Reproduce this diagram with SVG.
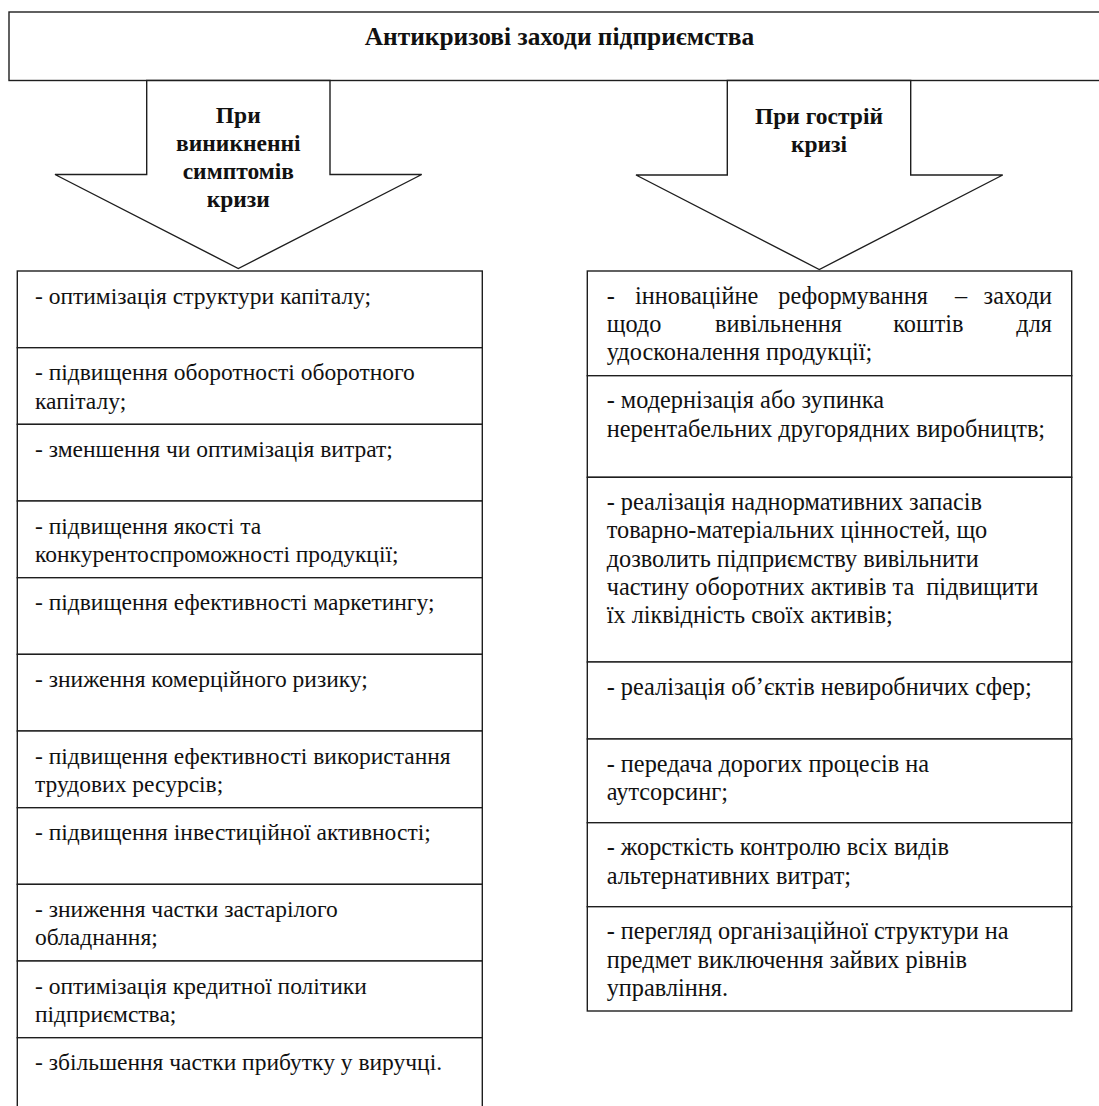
<svg xmlns="http://www.w3.org/2000/svg" width="1099" height="1106" viewBox="0 0 1099 1106">
<style>
.box{fill:#fff;stroke:#1e1e1e;stroke-width:1.4}
.t{font-family:"Liberation Serif","DejaVu Serif",serif;font-size:23.5px;fill:#111}
.r{font-size:24.3px}
.b{font-family:"Liberation Serif","DejaVu Serif",serif;font-size:23.5px;font-weight:bold;fill:#111}
.h{font-size:25.4px}
.c{text-anchor:middle}
.e{text-anchor:end}
</style>
<rect width="1099" height="1106" fill="#fff"/>
<g id="header">
<rect class="box" x="9" y="12" width="1100" height="68.5"/>
<text class="b h c" x="559.5" y="45">Антикризові заходи підприємства</text>
</g>
<g id="connectors">
<g id="arrow-left">
<polygon class="box" points="146.7,80.5 146.7,174.5 55,174.5 238.3,268.5 421.7,174.5 330,174.5 330,80.5"/>
<text class="b c" x="238.3" y="123.3">При</text>
<text class="b c" x="238.3" y="151.3">виникненні</text>
<text class="b c" x="238.3" y="179.3">симптомів</text>
<text class="b c" x="238.3" y="206.5">кризи</text>
</g>
<g id="arrow-right">
<polygon class="box" points="727.3,80.5 727.3,175 636,175 819.3,269.5 1002.7,175 910.7,175 910.7,80.5"/>
<text class="b c" x="819" y="123.5">При гострій</text>
<text class="b c" x="819" y="151.5">кризі</text>
</g>
</g>
<g id="left-column">
<g id="l1"><rect class="box" x="17.3" y="271" width="465" height="76.7"/><text class="t" x="35" y="303.5">- оптимізація структури капіталу;</text></g>
<g id="l2"><rect class="box" x="17.3" y="347.7" width="465" height="76.7"/><text class="t" x="35" y="380.2">- підвищення оборотності оборотного</text><text class="t" x="35" y="408.6">капіталу;</text></g>
<g id="l3"><rect class="box" x="17.3" y="424.3" width="465" height="76.7"/><text class="t" x="35" y="456.8">- зменшення чи оптимізація витрат;</text></g>
<g id="l4"><rect class="box" x="17.3" y="501" width="465" height="76.7"/><text class="t" x="35" y="533.5">- підвищення якості та</text><text class="t" x="35" y="561.9">конкурентоспроможності продукції;</text></g>
<g id="l5"><rect class="box" x="17.3" y="577.7" width="465" height="76.7"/><text class="t" x="35" y="610.2">- підвищення ефективності маркетингу;</text></g>
<g id="l6"><rect class="box" x="17.3" y="654.3" width="465" height="76.7"/><text class="t" x="35" y="686.8">- зниження комерційного ризику;</text></g>
<g id="l7"><rect class="box" x="17.3" y="731" width="465" height="76.7"/><text class="t" x="35" y="763.5">- підвищення ефективності використання</text><text class="t" x="35" y="791.9">трудових ресурсів;</text></g>
<g id="l8"><rect class="box" x="17.3" y="807.7" width="465" height="76.7"/><text class="t" x="35" y="840.2">- підвищення інвестиційної активності;</text></g>
<g id="l9"><rect class="box" x="17.3" y="884.3" width="465" height="76.7"/><text class="t" x="35" y="916.8">- зниження частки застарілого</text><text class="t" x="35" y="945.2">обладнання;</text></g>
<g id="l10"><rect class="box" x="17.3" y="961" width="465" height="76.7"/><text class="t" x="35" y="993.5">- оптимізація кредитної політики</text><text class="t" x="35" y="1021.9">підприємства;</text></g>
<g id="l11"><rect class="box" x="17.3" y="1037.7" width="465" height="80"/><text class="t" x="35" y="1070.2">- збільшення частки прибутку у виручці.</text></g>
</g>
<g id="right-column">
<g id="r1"><rect class="box" x="587.3" y="271" width="484.4" height="104.7"/>
<text class="t r" x="606.7" y="303.5">-</text><text class="t r" x="635" y="303.5">інноваційне</text><text class="t r" x="778.3" y="303.5">реформування</text><text class="t r" x="955" y="303.5">–</text><text class="t r e" x="1052" y="303.5">заходи</text>
<text class="t r" x="606.7" y="331.9">щодо</text><text class="t r" x="715" y="331.9">вивільнення</text><text class="t r" x="893.3" y="331.9">коштів</text><text class="t r e" x="1052" y="331.9">для</text>
<text class="t r" x="606.7" y="360.3">удосконалення продукції;</text></g>
<g id="r2"><rect class="box" x="587.3" y="375.7" width="484.4" height="101.6"/><text class="t r" x="606.7" y="408.2">- модернізація або зупинка</text><text class="t r" x="606.7" y="436.6">нерентабельних другорядних виробництв;</text></g>
<g id="r3"><rect class="box" x="587.3" y="477.3" width="484.4" height="184.7"/><text class="t r" x="606.7" y="509.8">- реалізація наднормативних запасів</text><text class="t r" x="606.7" y="538.2">товарно-матеріальних цінностей, що</text><text class="t r" x="606.7" y="566.6">дозволить підприємству вивільнити</text><text class="t r" x="606.7" y="595" xml:space="preserve">частину оборотних активів та  підвищити</text><text class="t r" x="606.7" y="623.4">їх ліквідність своїх активів;</text></g>
<g id="r4"><rect class="box" x="587.3" y="662" width="484.4" height="77"/><text class="t r" x="606.7" y="694.5">- реалізація об’єктів невиробничих сфер;</text></g>
<g id="r5"><rect class="box" x="587.3" y="739" width="484.4" height="83.7"/><text class="t r" x="606.7" y="771.5">- передача дорогих процесів на</text><text class="t r" x="606.7" y="799.9">аутсорсинг;</text></g>
<g id="r6"><rect class="box" x="587.3" y="822.7" width="484.4" height="84"/><text class="t r" x="606.7" y="855.2">- жорсткість контролю всіх видів</text><text class="t r" x="606.7" y="883.6">альтернативних витрат;</text></g>
<g id="r7"><rect class="box" x="587.3" y="906.7" width="484.4" height="104.3"/><text class="t r" x="606.7" y="939.2">- перегляд організаційної структури на</text><text class="t r" x="606.7" y="967.6">предмет виключення зайвих рівнів</text><text class="t r" x="606.7" y="996">управління.</text></g>
</g>
</svg>
